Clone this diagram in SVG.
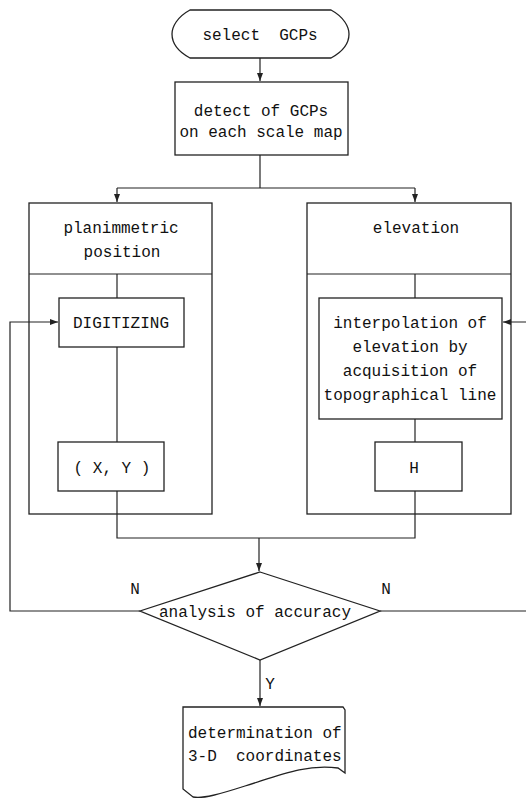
<svg xmlns="http://www.w3.org/2000/svg" width="526" height="799" viewBox="0 0 526 799">
<defs>
<marker id="arr" viewBox="0 0 8 6" refX="8" refY="3" markerWidth="8" markerHeight="6" markerUnits="userSpaceOnUse" orient="auto">
<path d="M0,0 L8,3 L0,6 Z" fill="#222"/>
</marker>
<style>
.box{fill:none;stroke:#222;stroke-width:1.3}
.ln{fill:none;stroke:#222;stroke-width:1.2}
.t{font-family:"Liberation Mono","DejaVu Sans Mono",monospace;font-size:16px;fill:#111;text-anchor:middle;white-space:pre}
.tl{font-family:"Liberation Mono","DejaVu Sans Mono",monospace;font-size:16px;fill:#111;white-space:pre}
</style>
</defs>
<rect width="526" height="799" fill="#fff"/>
<g id="connectors">
<path class="ln" d="M260,58 V81" marker-end="url(#arr)"/>
<path class="ln" d="M260,155 V188"/>
<path class="ln" d="M117,188 H415"/>
<path class="ln" d="M117,188 V202" marker-end="url(#arr)"/>
<path class="ln" d="M415,188 V202" marker-end="url(#arr)"/>
<path class="ln" d="M117,274 V298"/>
<path class="ln" d="M117,347 V442"/>
<path class="ln" d="M415,274 V298"/>
<path class="ln" d="M415,419 V442"/>
<path class="ln" d="M117,491 V538 H415 V491"/>
<path class="ln" d="M259,538 V571" marker-end="url(#arr)"/>
<path class="ln" d="M260,660 V706" marker-end="url(#arr)"/>
<path class="ln" d="M140,611 H10 V322 H58" marker-end="url(#arr)"/>
<path class="ln" d="M380,611 H530 V322 H503" marker-end="url(#arr)"/>
<text class="t" x="135" y="594">N</text>
<text class="t" x="386" y="594">N</text>
<text class="t" x="270" y="689">Y</text>
</g>
<g id="select">
<path class="box" d="M190,10 H331 C344,17 349,27 349,34 C349,42 344,51 331,58 H190 C177,51 172,42 172,34 C172,27 177,17 190,10 Z"/>
<text class="t" x="260" y="40">select  GCPs</text>
</g>
<g id="detect">
<rect class="box" x="175" y="82" width="173" height="73"/>
<text class="t" x="261" y="116">detect of GCPs</text>
<text class="t" x="261" y="137">on each scale map</text>
</g>
<g id="planimetric">
<rect class="box" x="29" y="203" width="183" height="311"/>
<path class="ln" d="M29,274 H212"/>
<text class="t" x="121" y="233">planimmetric</text>
<text class="t" x="122" y="257">position</text>
</g>
<g id="elevation">
<rect class="box" x="307" y="203" width="204" height="311"/>
<path class="ln" d="M307,274 H511"/>
<text class="t" x="416" y="233">elevation</text>
</g>
<g id="digitizing">
<rect class="box" x="59" y="298" width="125" height="49"/>
<text class="t" x="121" y="328">DIGITIZING</text>
</g>
<g id="interpolation">
<rect class="box" x="319" y="298" width="183" height="121"/>
<text class="t" x="410" y="328">interpolation of</text>
<text class="t" x="410" y="352">elevation by</text>
<text class="t" x="410" y="376">acquisition of</text>
<text class="t" x="410" y="400">topographical line</text>
</g>
<g id="xy">
<rect class="box" x="58" y="442" width="106" height="49"/>
<text class="t" x="112" y="473">( X, Y )</text>
</g>
<g id="h">
<rect class="box" x="375" y="442" width="87" height="49"/>
<text class="t" x="414" y="473">H</text>
</g>
<g id="analysis">
<path class="box" d="M260,572 L380,611 L260,660 L140,611 Z"/>
<text class="t" x="255" y="617">analysis of accuracy</text>
</g>
<g id="determination">
<path class="box" d="M183,707 H343 L345,710 V773 L338,768 C305,764 280,775 245,786 C220,794 203,799 193,797 L183,789 Z"/>
<text class="tl" x="188" y="738">determination of</text>
<text class="tl" x="188" y="761">3-D  coordinates</text>
</g>
</svg>
